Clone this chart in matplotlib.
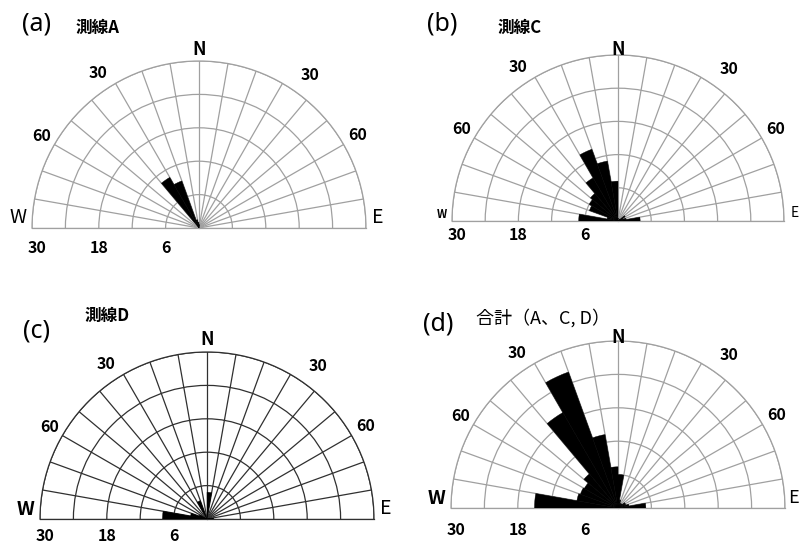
import numpy as np
import matplotlib
matplotlib.use("Agg")
import matplotlib.pyplot as plt

plt.rcParams["font.family"] = ["Noto Sans CJK JP", "DejaVu Sans"]

# 10-degree bins, azimuth from W (-90) through N (0) to E (+90)
bin_centers = np.arange(-85, 90, 10)

line_a = [0, 0, 0, 0, 0, 10.5, 9.0, 1.5, 1.0,
          0.6, 0, 0, 0, 0, 0, 0, 0, 0]
line_c = [7.1, 2.0, 5.5, 6.0, 6.5, 9.0, 13.8, 11.0, 7.2,
          0.5, 0, 0, 0, 0.5, 1.5, 1.0, 1.5, 4.0]
line_d = [8.0, 3.0, 1.5, 0, 0, 0, 3.5, 0, 0,
          4.8, 0, 0, 0, 0, 0, 0, 0.5, 1.2]
total = [15.0, 7.5, 7.2, 7.0, 8.0, 19.8, 26.0, 13.4, 7.4,
         6.0, 1.5, 1.0, 0.8, 1.0, 1.5, 1.5, 2.0, 5.0]

ring_values = [6, 12, 18, 24, 30]
bottom_labels = [30, 18, 6]
# (angle in degrees, radius in data units, text)
angle_labels = [(-59.5, 32.7, "60"), (-33, 33.2, "30"),
                (36, 34.0, "30"), (59.7, 33.0, "60")]

panels = [
    # letter, title, data, centre px, radius px, grid colour,
    # title pos, letter pos, N radius, bottom label offset (pt)
    ("(a)", "測線A", line_a, (199, 228), 167, "#a0a0a0", (76, 28), (22, 24), 32.0, -8.5),
    ("(b)", "測線C", line_c, (618, 221), 166, "#a0a0a0", (498, 28), (427, 24), 31.0, -4.5),
    ("(c)", "測線D", line_d, (207, 519), 167, "#303030", (85, 316), (23, 331), 32.3, -6.5),
    ("(d)", "合計（A、C, D）", total, (618, 508), 167, "#a0a0a0", (476, 318), (423, 324), 30.6, -10),
]

W, H = 800, 549
fig = plt.figure(figsize=(W / 100, H / 100), dpi=100)

for i, (letter, title, values, (cx, cy), R, gcol, tpos, lpos, nr, boff) in enumerate(panels):
    # square box; the half disc is centred in it vertically
    ax = fig.add_axes([(cx - R) / W, (H - (cy + 0.5 * R)) / H, 2 * R / W, 2 * R / H],
                      projection="polar")
    ax.set_theta_zero_location("N")
    ax.set_theta_direction(-1)
    ax.set_thetamin(-90)
    ax.set_thetamax(90)
    ax.set_ylim(0, 30)

    ax.bar(np.deg2rad(bin_centers), values, width=np.deg2rad(10),
           color="black", edgecolor="black", linewidth=0.3, zorder=3)

    ax.set_rticks(ring_values)
    ax.set_yticklabels([])
    ax.set_thetagrids(np.arange(-90, 91, 10), labels=[])
    ax.grid(True, color=gcol, linewidth=0.9)
    for sp in ax.spines.values():
        sp.set_color(gcol)
        sp.set_linewidth(0.9)
    ax.tick_params(length=0)

    right_col = i in (1, 3)
    ax.text(0, nr, "N", ha="center", va="center", fontsize=13,
            fontweight="bold", clip_on=False)
    for deg, r, lab in angle_labels:
        ax.text(np.deg2rad(deg), r, lab, ha="center", va="center",
                fontsize=11.5, fontweight="bold", clip_on=False)
    ax.text(np.deg2rad(-90), 31.0, "W", ha="right", va="bottom",
            fontsize=8 if i == 1 else 14, fontweight="bold" if i != 0 else "normal",
            clip_on=False)
    if right_col:
        # right-hand panels: E sits against the figure edge
        fig.text(0.999, 1 - (cy - 1) / H, "E", ha="right", va="bottom",
                 fontsize=10 if i == 1 else 13)
    else:
        ax.text(np.deg2rad(90), 31.0, "E", ha="left", va="bottom",
                fontsize=14, clip_on=False)
    for r in bottom_labels:
        dx = 4 if r == 30 else 0
        ax.annotate(str(r), xy=(np.deg2rad(-90), r), xytext=(dx, boff),
                    textcoords="offset points", ha="center", va="top",
                    fontsize=11.5, fontweight="bold", annotation_clip=False)

    fig.text(lpos[0] / W, 1 - lpos[1] / H, letter, ha="left", va="center",
             fontsize=18, family=["Noto Sans", "DejaVu Sans"])
    fig.text(tpos[0] / W, 1 - tpos[1] / H, title, ha="left", va="center",
             fontsize=12 if i < 3 else 13,
             fontweight="bold" if i < 3 else "normal")

fig.savefig("out.png", dpi=100)
